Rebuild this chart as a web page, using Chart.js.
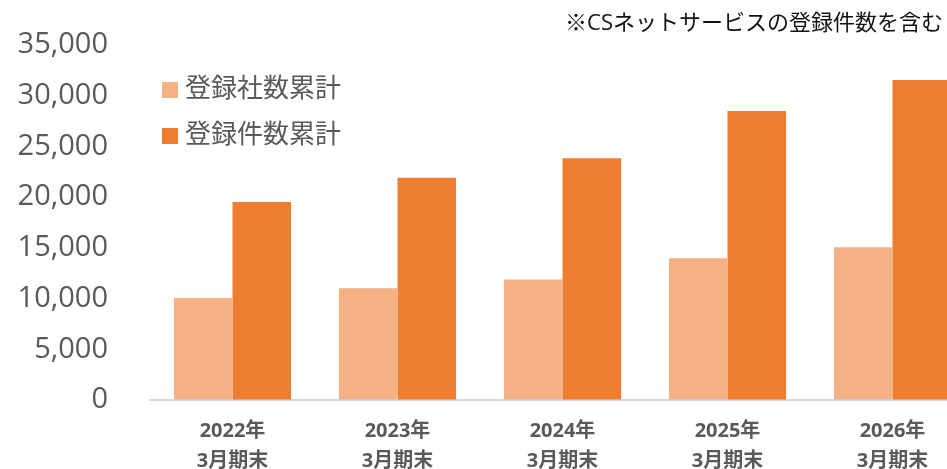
<!DOCTYPE html>
<html>
<head>
<meta charset="utf-8">
<script src="https://cdn.jsdelivr.net/npm/chart.js@4"></script>
<style>
  html, body { margin: 0; padding: 0; background: #fff; overflow: hidden; }
  #wrap { width: 975px; height: 469px; }
</style>
</head>
<body>
<div id="wrap"><canvas id="mychart"></canvas></div>
<script>
var years = [['2022年', '3月期末'], ['2023年', '3月期末'], ['2024年', '3月期末'], ['2025年', '3月期末'], ['2026年', '3月期末']];
var companies = [10050, 11010, 11870, 13980, 15060];
var registrations = [19530, 21920, 23840, 28500, 31560];
var note = '※CSネットサービスの登録件数を含む';

var fontFamily = "'Open Sans', 'Noto Sans CJK JP', sans-serif";

// legend + note drawn by hand, the built-in legend can't sit inside the plot like this
var sideText = {
  id: 'sideText',
  afterDraw: function(chart) {
    var c = chart.ctx;
    c.save();
    c.textBaseline = 'middle';
    c.textAlign = 'left';
    c.font = '26px ' + fontFamily;
    chart.data.datasets.forEach(function(ds, i) {
      var y = 90 + i * 46;
      c.fillStyle = ds.backgroundColor;
      c.fillRect(162, y - 8, 16, 16);
      c.fillStyle = '#595959';
      c.fillText(ds.label, 185, y);
    });
    c.font = '22px ' + fontFamily;
    c.fillStyle = '#111';
    c.textAlign = 'right';
    c.fillText(note, 943, 24);
    c.restore();
  }
};

var chartdata = {
  labels: years,
  datasets: [
    {
      label: '登録社数累計',
      backgroundColor: '#F4B183',
      data: companies
    },
    {
      label: '登録件数累計',
      backgroundColor: '#ED7D31',
      data: registrations
    }
  ]
};

new Chart(document.getElementById('mychart'), {
  type: 'bar',
  data: chartdata,
  plugins: [sideText],
  options: {
    responsive: true,
    maintainAspectRatio: false,
    animation: false,
    layout: { padding: { top: 45, right: 0, bottom: 0, left: 0 } },
    datasets: { bar: { categoryPercentage: 0.71, barPercentage: 1.0 } },
    plugins: { legend: { display: false }, tooltip: { enabled: false } },
    scales: {
      x: {
        grid: { display: false, drawTicks: false },
        border: { display: true, color: '#d9d9d9', width: 2 },
        ticks: {
          color: '#595959',
          padding: 16,
          maxRotation: 0,
          font: { family: fontFamily, size: 20, weight: 'bold', lineHeight: 1.5 }
        },
        afterFit: function(scale) { scale.height = 69; }
      },
      y: {
        min: 0,
        max: 35000,
        // invisible tick marks give the gap between labels and plot
        grid: { display: true, drawOnChartArea: false, drawTicks: true, tickLength: 40, color: 'rgba(0,0,0,0)' },
        border: { display: false },
        ticks: {
          stepSize: 5000,
          color: '#595959',
          padding: 2,
          font: { family: fontFamily, size: 29 },
          callback: function(v) { return v.toLocaleString('en-US'); }
        },
        afterFit: function(scale) { scale.width = 150; }
      }
    }
  }
});
</script>
</body>
</html>
